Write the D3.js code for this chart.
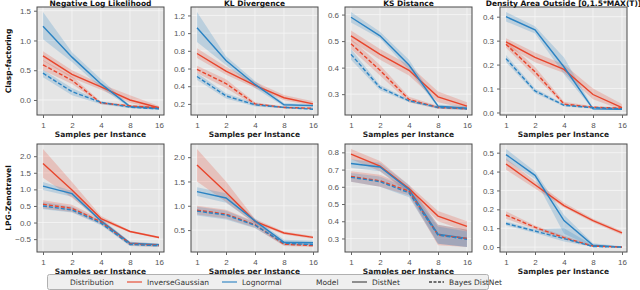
<!DOCTYPE html>
<html>
<head>
<meta charset="utf-8">
<script src="https://cdn.jsdelivr.net/npm/d3@7"></script>
<style>
    body { margin: 0; background: #fff; }
    svg { display: block; font-family: "DejaVu Sans", sans-serif; }
</style>
</head>
<body>
<div id="chartArea"></div>
<script>
// shared categories
const samples = [1, 2, 4, 8, 16];
const metrics = ["Negative Log Likelihood", "KL Divergence", "KS Distance", "Density Area Outside [0,1.5*MAX(T)]"];
const scenarios = ["Clasp-factoring", "LPG-Zenotravel"];
const distributions = ["InverseGaussian", "Lognormal"];
const models = ["DistNet", "Bayes DistNet"];
// series order in each panel: IG DistNet, LN DistNet, IG Bayes, LN Bayes

// Clasp-factoring
const claspNLL = [[0.74, 0.43, 0.22, 0.00, -0.13], [1.24, 0.72, 0.27, -0.11, -0.14], [0.59, 0.33, -0.05, -0.10, -0.13], [0.45, 0.14, -0.04, -0.12, -0.15]];
const claspNLLlo = [[0.66, 0.37, 0.17, -0.05, -0.16], [1.02, 0.64, 0.20, -0.13, -0.16], [0.50, 0.27, -0.07, -0.12, -0.15], [0.38, 0.08, -0.07, -0.14, -0.17]];
const claspNLLhi = [[0.82, 0.50, 0.27, 0.08, -0.10], [1.48, 0.80, 0.35, -0.09, -0.12], [0.67, 0.40, -0.03, -0.08, -0.11], [0.51, 0.20, -0.02, -0.10, -0.13]];

const claspKL = [[0.77, 0.57, 0.41, 0.27, 0.20], [1.06, 0.69, 0.42, 0.19, 0.18], [0.59, 0.43, 0.20, 0.16, 0.15], [0.51, 0.29, 0.19, 0.16, 0.14]];
const claspKLlo = [[0.72, 0.53, 0.38, 0.24, 0.18], [0.90, 0.64, 0.38, 0.17, 0.16], [0.55, 0.38, 0.18, 0.15, 0.14], [0.47, 0.26, 0.17, 0.15, 0.13]];
const claspKLhi = [[0.83, 0.62, 0.45, 0.30, 0.23], [1.24, 0.74, 0.46, 0.21, 0.20], [0.63, 0.48, 0.22, 0.17, 0.16], [0.55, 0.32, 0.21, 0.17, 0.15]];

const claspKS = [[0.52, 0.45, 0.39, 0.29, 0.255], [0.59, 0.52, 0.41, 0.255, 0.247], [0.49, 0.39, 0.28, 0.25, 0.245], [0.45, 0.325, 0.275, 0.25, 0.245]];
const claspKSlo = [[0.50, 0.43, 0.37, 0.27, 0.245], [0.57, 0.51, 0.39, 0.25, 0.24], [0.47, 0.37, 0.27, 0.245, 0.24], [0.43, 0.315, 0.27, 0.245, 0.24]];
const claspKShi = [[0.54, 0.47, 0.41, 0.31, 0.27], [0.61, 0.535, 0.43, 0.26, 0.255], [0.51, 0.41, 0.29, 0.255, 0.25], [0.47, 0.335, 0.28, 0.255, 0.25]];

const claspDA = [[0.295, 0.23, 0.18, 0.075, 0.02], [0.40, 0.345, 0.19, 0.015, 0.013], [0.285, 0.17, 0.035, 0.022, 0.018], [0.225, 0.09, 0.03, 0.02, 0.015]];
const claspDAlo = [[0.28, 0.21, 0.165, 0.055, 0.01], [0.38, 0.33, 0.16, 0.012, 0.01], [0.27, 0.15, 0.03, 0.018, 0.014], [0.21, 0.08, 0.025, 0.016, 0.012]];
const claspDAhi = [[0.31, 0.25, 0.20, 0.10, 0.035], [0.42, 0.36, 0.23, 0.02, 0.017], [0.30, 0.19, 0.045, 0.026, 0.022], [0.24, 0.10, 0.035, 0.024, 0.018]];

// LPG-Zenotravel
const lpgNLL = [[1.78, 0.98, 0.12, -0.27, -0.45], [1.10, 0.87, 0.05, -0.62, -0.67], [0.55, 0.43, 0.02, -0.64, -0.69], [0.50, 0.38, -0.02, -0.66, -0.70]];
const lpgNLLlo = [[1.35, 0.75, 0.05, -0.30, -0.48], [0.98, 0.78, 0.00, -0.66, -0.71], [0.42, 0.32, -0.05, -0.70, -0.74], [0.40, 0.30, -0.08, -0.71, -0.74]];
const lpgNLLhi = [[2.22, 1.22, 0.20, -0.24, -0.42], [1.22, 0.96, 0.12, -0.58, -0.63], [0.67, 0.54, 0.10, -0.58, -0.64], [0.62, 0.48, 0.05, -0.61, -0.66]];

const lpgKL = [[1.84, 1.28, 0.68, 0.44, 0.35], [1.29, 1.16, 0.69, 0.25, 0.24], [0.91, 0.83, 0.61, 0.21, 0.18], [0.89, 0.81, 0.60, 0.23, 0.20]];
const lpgKLlo = [[1.50, 1.08, 0.63, 0.41, 0.32], [1.20, 1.06, 0.64, 0.20, 0.20], [0.82, 0.74, 0.55, 0.17, 0.15], [0.80, 0.72, 0.54, 0.19, 0.17]];
const lpgKLhi = [[2.17, 1.50, 0.73, 0.47, 0.38], [1.38, 1.26, 0.74, 0.30, 0.28], [1.00, 0.92, 0.67, 0.25, 0.21], [0.98, 0.90, 0.66, 0.27, 0.23]];

const lpgKS = [[0.79, 0.72, 0.59, 0.43, 0.37], [0.735, 0.715, 0.585, 0.325, 0.30], [0.66, 0.635, 0.575, 0.32, 0.30], [0.655, 0.63, 0.565, 0.32, 0.295]];
const lpgKSlo = [[0.76, 0.69, 0.57, 0.40, 0.34], [0.71, 0.69, 0.56, 0.27, 0.25], [0.63, 0.60, 0.55, 0.26, 0.25], [0.63, 0.60, 0.54, 0.27, 0.25]];
const lpgKShi = [[0.82, 0.75, 0.61, 0.46, 0.40], [0.76, 0.74, 0.61, 0.38, 0.35], [0.69, 0.67, 0.60, 0.38, 0.35], [0.68, 0.66, 0.59, 0.37, 0.34]];

const lpgDA = [[0.44, 0.33, 0.22, 0.14, 0.075], [0.49, 0.38, 0.14, 0.01, 0.0], [0.17, 0.105, 0.05, 0.005, 0.0], [0.125, 0.085, 0.045, 0.003, 0.0]];
const lpgDAlo = [[0.41, 0.31, 0.21, 0.13, 0.065], [0.46, 0.36, 0.07, 0.0, 0.0], [0.15, 0.095, 0.04, 0.0, 0.0], [0.115, 0.075, 0.03, 0.0, 0.0]];
const lpgDAhi = [[0.47, 0.35, 0.235, 0.15, 0.085], [0.52, 0.40, 0.17, 0.02, 0.005], [0.19, 0.115, 0.06, 0.01, 0.003], [0.135, 0.095, 0.10, 0.01, 0.003]];

// y tick labels per panel
const claspTicks = [[0, 0.5, 1.0, 1.5], [0.2, 0.4, 0.6, 0.8, 1.0, 1.2], [0.3, 0.4, 0.5, 0.6], [0, 0.1, 0.2, 0.3, 0.4]];
const lpgTicks = [[-0.5, 0, 0.5, 1.0, 1.5, 2.0], [0.5, 1.0, 1.5, 2.0], [0.3, 0.4, 0.5, 0.6, 0.7, 0.8], [0, 0.1, 0.2, 0.3, 0.4, 0.5]];

const panels = [
    [[claspNLL, claspNLLlo, claspNLLhi], [claspKL, claspKLlo, claspKLhi], [claspKS, claspKSlo, claspKShi], [claspDA, claspDAlo, claspDAhi]],
    [[lpgNLL, lpgNLLlo, lpgNLLhi], [lpgKL, lpgKLlo, lpgKLhi], [lpgKS, lpgKSlo, lpgKShi], [lpgDA, lpgDAlo, lpgDAhi]]
];
const yTicks = [claspTicks, lpgTicks];

const colors = ["#e8452c", "#2b83c3"];
const width = 640, height = 290;
const panelLeft = [37, 191, 345, 500];
const panelW = 127;
const rowTop = [7, 144];
const panelH = 108;

const svg = d3
    .select("#chartArea")
    .append("svg")
    .attr("width", width)
    .attr("height", height);

const fmt = (d) => d3.format(".1f")(d).replace("-", "\u2212");

const drawPanel = (row, col) => {
    const [means, lows, highs] = panels[row][col];
    const x0 = panelLeft[col];
    const y0 = rowTop[row];

    const xScale = d3
        .scaleLog()
        .base(2)
        .domain([1, 16])
        .range([x0 + 6, x0 + panelW - 5]);

    const lo = d3.min(lows.flat());
    const hi = d3.max(highs.flat());
    const pad = (hi - lo) * 0.05;
    const yScale = d3
        .scaleLinear()
        .domain([lo - pad, hi + pad])
        .range([y0 + panelH, y0]);

    const g = svg.append("g");

    g.append("rect")
        .attr("x", x0)
        .attr("y", y0)
        .attr("width", panelW)
        .attr("height", panelH)
        .attr("fill", "#e5e5e5");

    // grid
    g.selectAll(".vgrid")
        .data(samples)
        .join("line")
        .attr("x1", (d) => xScale(d))
        .attr("x2", (d) => xScale(d))
        .attr("y1", y0)
        .attr("y2", y0 + panelH)
        .attr("stroke", "#f6f6f6")
        .attr("stroke-width", 0.8);

    g.selectAll(".hgrid")
        .data(yTicks[row][col])
        .join("line")
        .attr("x1", x0)
        .attr("x2", x0 + panelW)
        .attr("y1", (d) => yScale(d))
        .attr("y2", (d) => yScale(d))
        .attr("stroke", "#f6f6f6")
        .attr("stroke-width", 0.8);

    const area = d3
        .area()
        .x((d, i) => xScale(samples[i]))
        .y0((d) => yScale(d[0]))
        .y1((d) => yScale(d[1]));

    const line = d3
        .line()
        .x((d, i) => xScale(samples[i]))
        .y((d) => yScale(d));

    // bands then lines, series in order
    for (let s = 0; s < means.length; s++) {
        const color = colors[s % 2];
        const band = lows[s].map((d, i) => [d, highs[s][i]]);
        g.append("path")
            .attr("d", area(band))
            .attr("fill", color)
            .style("fill-opacity", 0.22);
    }
    for (let s = 0; s < means.length; s++) {
        const color = colors[s % 2];
        g.append("path")
            .attr("d", line(means[s]))
            .attr("fill", "none")
            .attr("stroke", color)
            .attr("stroke-width", 1.4)
            .attr("stroke-dasharray", s >= 2 ? "4,2" : null);
    }

    // frame
    g.append("rect")
        .attr("x", x0)
        .attr("y", y0)
        .attr("width", panelW)
        .attr("height", panelH)
        .attr("fill", "none")
        .attr("stroke", "#4a4a4a")
        .attr("stroke-width", 1);

    const xAxis = d3
        .axisBottom(xScale)
        .tickValues(samples)
        .tickSize(3)
        .tickPadding(4)
        .tickFormat(d3.format("d"));

    const xg = g.append("g")
        .attr("transform", `translate(0,${y0 + panelH})`)
        .call(xAxis);
    xg.select(".domain").remove();
    xg.selectAll("line").attr("stroke", "#666");
    xg.selectAll("text")
        .style("font-size", "8px")
        .attr("fill", "#555");

    const yAxis = d3
        .axisLeft(yScale)
        .tickValues(yTicks[row][col])
        .tickSize(3)
        .tickPadding(3)
        .tickFormat(fmt);

    const yg = g.append("g")
        .attr("transform", `translate(${x0},0)`)
        .call(yAxis);
    yg.select(".domain").remove();
    yg.selectAll("line").attr("stroke", "#666");
    yg.selectAll("text")
        .style("font-size", "8px")
        .attr("fill", "#555");

    g.append("text")
        .attr("x", x0 + panelW / 2)
        .attr("y", y0 + panelH + 22)
        .attr("text-anchor", "middle")
        .style("font-size", "7.5px")
        .style("font-weight", "700")
        .attr("fill", "#222")
        .text("Samples per Instance");

    if (row === 0) {
        g.append("text")
            .attr("x", x0 + panelW / 2)
            .attr("y", 5.5)
            .attr("text-anchor", "middle")
            .style("font-size", "7.5px")
            .style("font-weight", "700")
            .attr("fill", "#111")
            .text(metrics[col]);
    }
    if (col === 0) {
        g.append("text")
            .attr("transform", `translate(11,${y0 + panelH / 2}) rotate(-90)`)
            .attr("text-anchor", "middle")
            .style("font-size", "7.5px")
            .style("font-weight", "700")
            .attr("fill", "#111")
            .text(scenarios[row]);
    }
};

for (let r = 0; r < 2; r++) {
    for (let c = 0; c < 4; c++) {
        drawPanel(r, c);
    }
}

// legend
const legend = svg.append("g");
legend.append("rect")
    .attr("x", 47.5)
    .attr("y", 274.5)
    .attr("width", 441)
    .attr("height", 15)
    .attr("rx", 2)
    .attr("fill", "#efefef")
    .attr("stroke", "#b0b0b0")
    .attr("stroke-width", 1);

const legendItems = [
    { label: "Distribution", x: 70 },
    { label: distributions[0], x: 147, stroke: colors[0], dash: null },
    { label: distributions[1], x: 242, stroke: colors[1], dash: null },
    { label: "Model", x: 316 },
    { label: models[0], x: 372, stroke: "#444", dash: null },
    { label: models[1], x: 449, stroke: "#444", dash: "3,1.5" }
];

legendItems.forEach((item) => {
    if (item.stroke) {
        legend.append("line")
            .attr("x1", item.x - 20)
            .attr("x2", item.x - 5)
            .attr("y1", 282)
            .attr("y2", 282)
            .attr("stroke", item.stroke)
            .attr("stroke-width", 1.4)
            .style("opacity", item.dash ? 1 : 0.8)
            .attr("stroke-dasharray", item.dash);
    }
    legend.append("text")
        .attr("x", item.x)
        .attr("y", 284.8)
        .style("font-size", "7.5px")
        .attr("fill", "#333")
        .text(item.label);
});
</script>
</body>
</html>
